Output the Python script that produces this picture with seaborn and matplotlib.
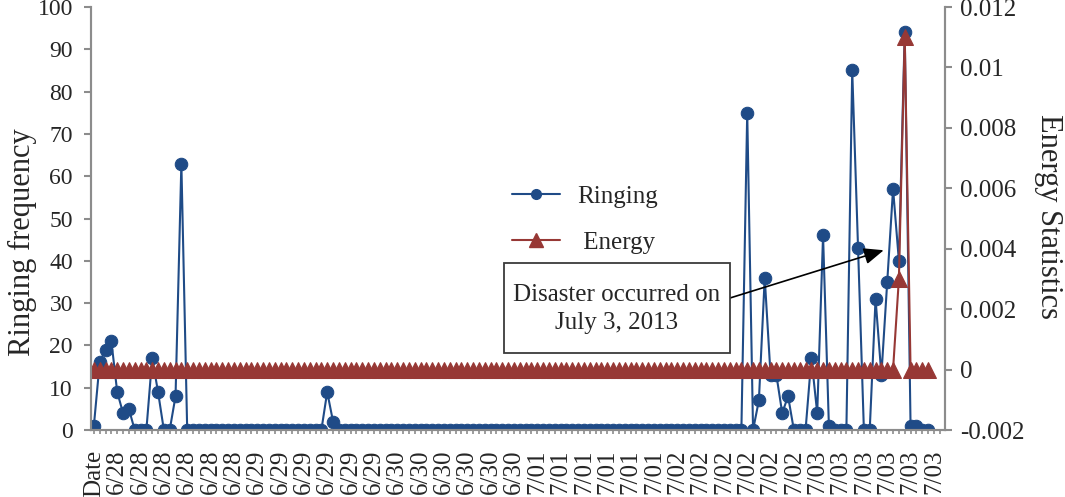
import numpy as np
import pandas as pd
import matplotlib
matplotlib.use("Agg")
import matplotlib.pyplot as plt
import seaborn as sns
from matplotlib.lines import Line2D
from matplotlib.patches import Rectangle

# Ringing counts per sample (144 samples, Date .. 7/03)
ringing = (
    [1, 16, 19, 21, 9, 4, 5, 0, 0, 0, 17, 9, 0, 0, 8, 63]
    + [0] * 24
    + [9, 2]
    + [0] * 70
    + [75, 0, 7, 36, 13, 13, 4, 8, 0, 0, 0, 17, 4, 46, 1, 0,
       0, 0, 85, 43, 0, 0, 31, 13, 35, 57, 40, 94, 1, 1, 0, 0]
)

# Energy statistics per sample (flat at zero until the disaster)
energy = [0] * 138 + [0.003, 0.011] + [0] * 4

# Category labels, one shown every 4 samples
tick_labels = (["Date"] + ["6/28"] * 6 + ["6/29"] * 6 + ["6/30"] * 6
               + ["7/01"] * 6 + ["7/02"] * 6 + ["7/03"] * 6)

energy_ticks = [-0.002, 0, 0.002, 0.004, 0.006, 0.008, 0.01, 0.012]
energy_tick_labels = ["-0.002", "0", "0.002", "0.004", "0.006", "0.008", "0.01", "0.012"]

BLUE = "#1F4B87"
RED = "#973835"
GREY = "#8C8C8C"

df = pd.DataFrame({"sample": np.arange(len(ringing)),
                   "ringing": ringing,
                   "energy": energy})

sns.set_style("ticks")
plt.rcParams["font.family"] = ["Liberation Serif", "DejaVu Serif"]

fig = plt.figure(figsize=(10.65, 4.97), dpi=100)
ax = fig.add_axes([0.0854, 0.1348, 0.8019, 0.8511])
ax2 = ax.twinx()

sns.lineplot(data=df, x="sample", y="ringing", ax=ax, color=BLUE,
             marker="o", markersize=9, markeredgecolor=BLUE, linewidth=1.5,
             legend=False)
sns.lineplot(data=df, x="sample", y="energy", ax=ax2, color=RED,
             marker="^", markersize=11, markeredgecolor=RED, linewidth=1.5,
             legend=False)

# axes limits / ticks
ax.set_xlim(-0.5, 145.9)
ax.set_ylim(0, 100)
ax.set_yticks(range(0, 101, 10))
ax.set_xticks(np.arange(0, len(tick_labels) * 4, 4))
ax.set_xticklabels(tick_labels, rotation=90)
ax.set_xticks(np.arange(0, 146), minor=True)

ax2.set_ylim(-0.002, 0.012)
ax2.set_yticks(energy_ticks)
ax2.set_yticklabels(energy_tick_labels)

ax.set_xlabel("")
ax.set_ylabel("Ringing frequency", fontsize=22, va="center", ha="center")
ax.yaxis.set_label_coords(-0.08, 0.445)
ax2.set_ylabel("Energy Statistics", fontsize=22, rotation=270,
               va="center", ha="center")
ax2.yaxis.set_label_coords(1.121, 0.505)

for a in (ax, ax2):
    for side in ("left", "right", "bottom"):
        a.spines[side].set_color(GREY)
        a.spines[side].set_linewidth(1.5)
    a.spines["top"].set_visible(False)

ax.tick_params(axis="y", labelsize=17, length=5, width=1.5, color=GREY, pad=8)
ax.tick_params(axis="x", which="both", labelsize=18, length=3, width=1.2,
               color=GREY, pad=11)
ax2.tick_params(axis="y", labelsize=18, length=5, width=1.5, color=GREY, pad=6)

# legend in the middle of the plot
handles = [
    Line2D([], [], color=BLUE, lw=1.5, marker="o", markersize=7, markeredgecolor=BLUE),
    Line2D([], [], color=RED, lw=1.5, marker="^", markersize=10, markeredgecolor=RED),
]
ax2.legend(handles, ["Ringing", " Energy"], loc="upper left",
           bbox_to_anchor=(512 / 1065, 1 - 185 / 497),
           bbox_transform=fig.transFigure, frameon=False, fontsize=18,
           handlelength=1.9, handletextpad=0.7, labelspacing=0.95,
           borderpad=0, borderaxespad=0)

# annotation box with arrow toward the disaster peak
box = Rectangle((504 / 1065, 1 - 353 / 497), 226 / 1065, 90 / 497,
                transform=fig.transFigure, facecolor="white",
                edgecolor="#3A3A3A", linewidth=1.3, zorder=2)
fig.add_artist(box)
fig.text(617 / 1065, 1 - 309 / 497, "Disaster occurred on\nJuly 3, 2013",
         ha="center", va="center", fontsize=18, linespacing=1.3, zorder=3)
ax2.annotate("", xy=(135.4, 42.5), xycoords=ax.transData,
             xytext=(730 / 1065, 1 - 298 / 497), textcoords="figure fraction",
             arrowprops=dict(arrowstyle="-|>,head_length=0.6,head_width=0.25",
                             color="black", lw=1.2, mutation_scale=20,
                             shrinkA=0, shrinkB=0))

fig.savefig("out.png", dpi=100)
plt.close(fig)
